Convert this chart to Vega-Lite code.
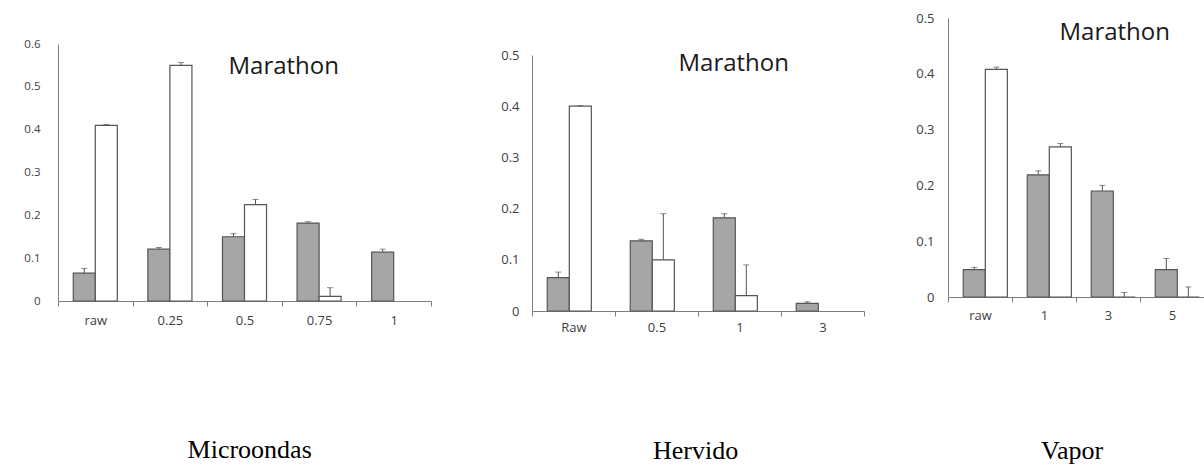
{
  "$schema": "https://vega.github.io/schema/vega-lite/v6.json",
  "background": "white",
  "padding": {"left": 23, "top": 0, "right": 0, "bottom": 0},
  "config": {
    "view": {"stroke": null},
    "axisX": {"title": null, "tickBand": "extent", "tickSize": 5, "tickColor": "#7f7f7f", "domainColor": "#7f7f7f", "labelAngle": 0, "labelPadding": 7, "labelColor": "#404040", "labelFont": "Open Sans", "labelFontSize": 13, "grid": false},
    "axisY": {"title": null, "ticks": false, "tickSize": 0, "grid": false, "format": "~g", "domainColor": "#7f7f7f", "labelColor": "#404040", "labelFont": "Open Sans", "labelFontSize": 13},
    "title": {"fontWeight": "normal"}
  },
  "datasets": {
    "blank": [],
    "bars": [
      {"panel": "Microondas", "cat": "raw", "series": "gray", "value": 0.065, "err": 0.076},
      {"panel": "Microondas", "cat": "raw", "series": "white", "value": 0.41, "err": 0.412},
      {"panel": "Microondas", "cat": "0.25", "series": "gray", "value": 0.121, "err": 0.125},
      {"panel": "Microondas", "cat": "0.25", "series": "white", "value": 0.55, "err": 0.557},
      {"panel": "Microondas", "cat": "0.5", "series": "gray", "value": 0.15, "err": 0.157},
      {"panel": "Microondas", "cat": "0.5", "series": "white", "value": 0.225, "err": 0.237},
      {"panel": "Microondas", "cat": "0.75", "series": "gray", "value": 0.182, "err": 0.185},
      {"panel": "Microondas", "cat": "0.75", "series": "white", "value": 0.011, "err": 0.031},
      {"panel": "Microondas", "cat": "1", "series": "gray", "value": 0.114, "err": 0.121},
      {"panel": "Hervido", "cat": "Raw", "series": "gray", "value": 0.065, "err": 0.076},
      {"panel": "Hervido", "cat": "Raw", "series": "white", "value": 0.4, "err": 0.401},
      {"panel": "Hervido", "cat": "0.5", "series": "gray", "value": 0.137, "err": 0.14},
      {"panel": "Hervido", "cat": "0.5", "series": "white", "value": 0.1, "err": 0.19},
      {"panel": "Hervido", "cat": "1", "series": "gray", "value": 0.182, "err": 0.19},
      {"panel": "Hervido", "cat": "1", "series": "white", "value": 0.03, "err": 0.09},
      {"panel": "Hervido", "cat": "3", "series": "gray", "value": 0.015, "err": 0.018},
      {"panel": "Vapor", "cat": "raw", "series": "gray", "value": 0.049, "err": 0.053},
      {"panel": "Vapor", "cat": "raw", "series": "white", "value": 0.408, "err": 0.412},
      {"panel": "Vapor", "cat": "1", "series": "gray", "value": 0.219, "err": 0.226},
      {"panel": "Vapor", "cat": "1", "series": "white", "value": 0.269, "err": 0.275},
      {"panel": "Vapor", "cat": "3", "series": "gray", "value": 0.19, "err": 0.2},
      {"panel": "Vapor", "cat": "3", "series": "white", "value": 0, "err": 0.008},
      {"panel": "Vapor", "cat": "5", "series": "gray", "value": 0.049, "err": 0.069},
      {"panel": "Vapor", "cat": "5", "series": "white", "value": 0, "err": 0.018}
    ]
  },
  "spacing": 68,
  "hconcat": [
    {
      "title": {"text": "Microondas", "orient": "bottom", "anchor": "middle", "offset": 131, "dx": 22, "baseline": "alphabetic", "font": "Liberation Serif", "fontSize": 26, "fontWeight": "normal", "color": "#000000"},
      "spacing": 0,
      "vconcat": [
        {"width": 10, "height": 38, "data": {"name": "blank"}, "mark": "point"},
        {
          "width": 373, "height": 257,
          "title": {"text": "Marathon", "orient": "top", "anchor": "end", "frame": "group", "offset": -60, "dx": -92, "baseline": "alphabetic", "font": "Open Sans", "fontSize": 24, "fontWeight": "normal", "color": "#1a1a1a"},
          "data": {"name": "bars"},
          "transform": [{"filter": "datum.panel === 'Microondas'"}],
          "encoding": {
            "x": {"field": "cat", "type": "nominal", "sort": ["raw", "0.25", "0.5", "0.75", "1"], "scale": {"paddingInner": 0, "paddingOuter": 0}, "axis": {"labelPadding": 8}},
            "xOffset": {"field": "series", "type": "nominal", "sort": ["gray", "white"], "scale": {"paddingInner": 0, "paddingOuter": 0.693}}
          },
          "layer": [
            {"mark": {"type": "bar", "stroke": "#555555", "strokeWidth": 1.2},
             "encoding": {
               "y": {"field": "value", "type": "quantitative", "scale": {"domain": [0, 0.6]}, "axis": {"values": [0, 0.1, 0.2, 0.3, 0.4, 0.5, 0.6], "labelPadding": 18, "labelFontSize": 11.5}},
               "fill": {"field": "series", "type": "nominal", "scale": {"domain": ["gray", "white"], "range": ["#a6a6a6", "#ffffff"]}, "legend": null}}},
            {"mark": {"type": "rule", "color": "#555555", "strokeWidth": 1}, "encoding": {"y": {"field": "value", "type": "quantitative"}, "y2": {"field": "err"}}},
            {"mark": {"type": "tick", "color": "#555555", "size": 6, "thickness": 1}, "encoding": {"y": {"field": "err", "type": "quantitative"}}}
          ]
        }
      ]
    },
    {
      "spacing": 50,
      "hconcat": [
        {
          "title": {"text": "Hervido", "orient": "bottom", "anchor": "middle", "offset": 125, "dx": 13, "baseline": "alphabetic", "font": "Liberation Serif", "fontSize": 26, "fontWeight": "normal", "color": "#000000"},
          "spacing": 0,
          "vconcat": [
            {"width": 10, "height": 49, "data": {"name": "blank"}, "mark": "point"},
            {
              "width": 332, "height": 256,
              "title": {"text": "Marathon", "orient": "top", "anchor": "end", "frame": "group", "offset": -46, "dx": -75, "baseline": "alphabetic", "font": "Open Sans", "fontSize": 24, "fontWeight": "normal", "color": "#1a1a1a"},
              "data": {"name": "bars"},
              "transform": [{"filter": "datum.panel === 'Hervido'"}],
              "encoding": {
                "x": {"field": "cat", "type": "nominal", "sort": ["Raw", "0.5", "1", "3"], "scale": {"paddingInner": 0, "paddingOuter": 0}, "axis": {"labelPadding": 5}},
                "xOffset": {"field": "series", "type": "nominal", "sort": ["gray", "white"], "scale": {"paddingInner": 0, "paddingOuter": 0.766}}
              },
              "layer": [
                {"mark": {"type": "bar", "stroke": "#555555", "strokeWidth": 1.2},
                 "encoding": {
                   "y": {"field": "value", "type": "quantitative", "scale": {"domain": [0, 0.5]}, "axis": {"values": [0, 0.1, 0.2, 0.3, 0.4, 0.5], "labelPadding": 13}},
                   "fill": {"field": "series", "type": "nominal", "scale": {"domain": ["gray", "white"], "range": ["#a6a6a6", "#ffffff"]}, "legend": null}}},
                {"mark": {"type": "rule", "color": "#555555", "strokeWidth": 1}, "encoding": {"y": {"field": "value", "type": "quantitative"}, "y2": {"field": "err"}}},
                {"mark": {"type": "tick", "color": "#555555", "size": 6, "thickness": 1}, "encoding": {"y": {"field": "err", "type": "quantitative"}}}
              ]
            }
          ]
        },
        {
          "title": {"text": "Vapor", "orient": "bottom", "anchor": "middle", "offset": 137, "dx": 12, "baseline": "alphabetic", "font": "Liberation Serif", "fontSize": 26, "fontWeight": "normal", "color": "#000000"},
          "spacing": 0,
          "vconcat": [
            {"width": 10, "height": 12, "data": {"name": "blank"}, "mark": "point"},
            {
              "width": 256, "height": 279,
              "title": {"text": "Marathon", "orient": "top", "anchor": "end", "frame": "group", "offset": -52, "dx": -34, "baseline": "alphabetic", "font": "Open Sans", "fontSize": 24, "fontWeight": "normal", "color": "#1a1a1a"},
              "data": {"name": "bars"},
              "transform": [{"filter": "datum.panel === 'Vapor'"}],
              "encoding": {
                "x": {"field": "cat", "type": "nominal", "sort": ["raw", "1", "3", "5"], "scale": {"paddingInner": 0, "paddingOuter": 0}, "axis": {"labelPadding": 7}},
                "xOffset": {"field": "series", "type": "nominal", "sort": ["gray", "white"], "scale": {"paddingInner": 0, "paddingOuter": 0.684}}
              },
              "layer": [
                {"mark": {"type": "bar", "stroke": "#555555", "strokeWidth": 1.2},
                 "encoding": {
                   "y": {"field": "value", "type": "quantitative", "scale": {"domain": [0, 0.5]}, "axis": {"values": [0, 0.1, 0.2, 0.3, 0.4, 0.5], "labelPadding": 14}},
                   "fill": {"field": "series", "type": "nominal", "scale": {"domain": ["gray", "white"], "range": ["#a6a6a6", "#ffffff"]}, "legend": null}}},
                {"mark": {"type": "rule", "color": "#555555", "strokeWidth": 1}, "encoding": {"y": {"field": "value", "type": "quantitative"}, "y2": {"field": "err"}}},
                {"mark": {"type": "tick", "color": "#555555", "size": 6, "thickness": 1}, "encoding": {"y": {"field": "err", "type": "quantitative"}}}
              ]
            }
          ]
        }
      ]
    }
  ]
}
